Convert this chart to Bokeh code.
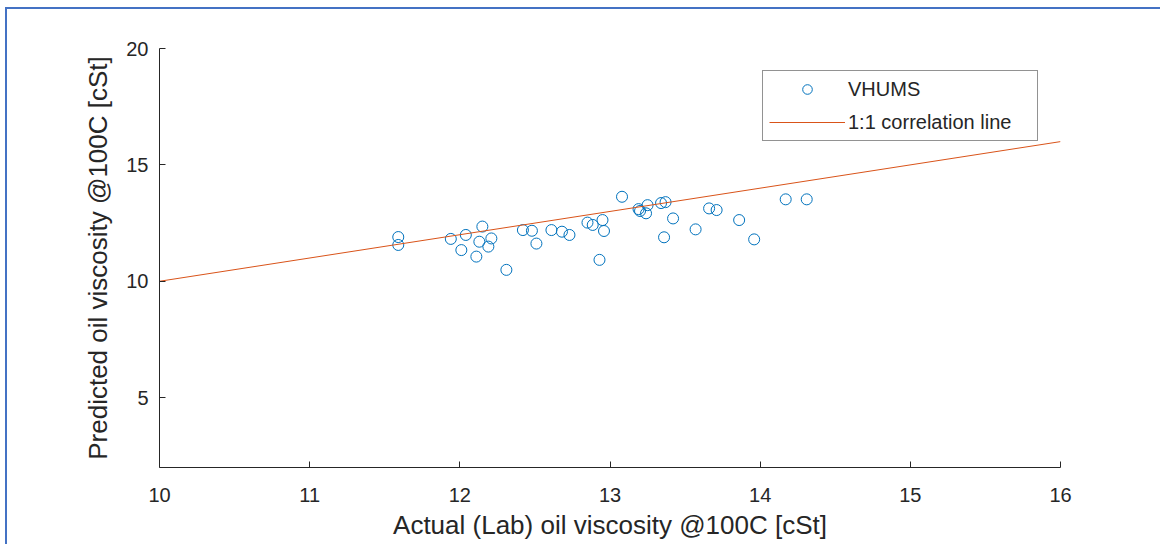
from bokeh.plotting import figure
from bokeh.models import Legend, LegendItem, FixedTicker, Range1d
from bokeh.embed import file_html
from bokeh.resources import INLINE

# Data
actual = [11.59, 11.59, 11.94, 12.04, 12.01, 12.15, 12.13, 12.11, 12.21, 12.19,
          12.31, 12.42, 12.48, 12.51, 12.61, 12.68, 12.73, 12.85, 12.885, 12.95,
          12.96, 12.93, 13.08, 13.20, 13.24, 13.25, 13.19, 13.34, 13.37, 13.42,
          13.36, 13.57, 13.66, 13.71, 13.86, 13.96, 14.17, 14.31]
predicted = [11.90, 11.56, 11.82, 11.99, 11.34, 12.35, 11.70, 11.06, 11.84, 11.49,
             10.49, 12.20, 12.17, 11.62, 12.20, 12.13, 11.99, 12.52, 12.42, 12.63,
             12.16, 10.92, 13.63, 13.02, 12.92, 13.27, 13.10, 13.36, 13.40, 12.70,
             11.89, 12.23, 13.13, 13.06, 12.63, 11.80, 13.52, 13.52]
line_x = [10, 16]
line_y = [10, 16]
x_ticks = [10, 11, 12, 13, 14, 15, 16]
y_ticks = [5, 10, 15, 20]

FONT = "Liberation Sans"
AX = "#262626"

p = figure(frame_width=901, frame_height=419,
           x_range=Range1d(10, 16), y_range=Range1d(2, 20),
           output_backend="svg", toolbar_location=None,
           min_border_left=152, min_border_top=39,
           min_border_right=100, min_border_bottom=77)
p.styles = {"border-top": "2px solid #4472C4", "border-left": "2px solid #4472C4",
            "margin-left": "5px", "margin-top": "7px"}

p.grid.visible = False
p.outline_line_color = None
p.background_fill_color = "white"
p.border_fill_color = "white"

sc = p.scatter(actual, predicted, marker="circle", size=11,
               fill_color=None, line_color="#0072BD", line_width=1)
ln = p.line(line_x, line_y, line_color="#D95319", line_width=1)

for ax, ticks in ((p.xaxis[0], x_ticks), (p.yaxis[0], y_ticks)):
    ax.ticker = FixedTicker(ticks=ticks)
    ax.minor_tick_line_color = None
    ax.major_tick_in = 6
    ax.major_tick_out = 0
    ax.axis_line_color = AX
    ax.major_tick_line_color = AX
    ax.major_label_text_font = FONT
    ax.major_label_text_font_size = "20px"
    ax.major_label_text_color = AX
    ax.axis_label_text_font = FONT
    ax.axis_label_text_font_size = "26px"
    ax.axis_label_text_font_style = "normal"
    ax.axis_label_text_color = AX

p.xaxis[0].axis_label = "Actual (Lab) oil viscosity @100C [cSt]"
p.xaxis[0].major_label_standoff = 20
p.xaxis[0].axis_label_standoff = 5
p.yaxis[0].axis_label = "Predicted oil viscosity @100C [cSt]"
p.yaxis[0].major_label_standoff = 11
p.yaxis[0].axis_label_standoff = 10

legend = Legend(items=[LegendItem(label="VHUMS", renderers=[sc]),
                       LegendItem(label="1:1 correlation line", renderers=[ln])],
                location="top_right", margin=22, padding=6, spacing=9,
                glyph_width=76, glyph_height=24, label_height=24,
                label_width=183, label_standoff=3,
                label_text_font=FONT, label_text_font_size="20px",
                label_text_color=AX,
                border_line_color=AX, border_line_width=1,
                background_fill_color="white", background_fill_alpha=1)
p.add_layout(legend)

open("out.html", "w").write(file_html(p, INLINE))
